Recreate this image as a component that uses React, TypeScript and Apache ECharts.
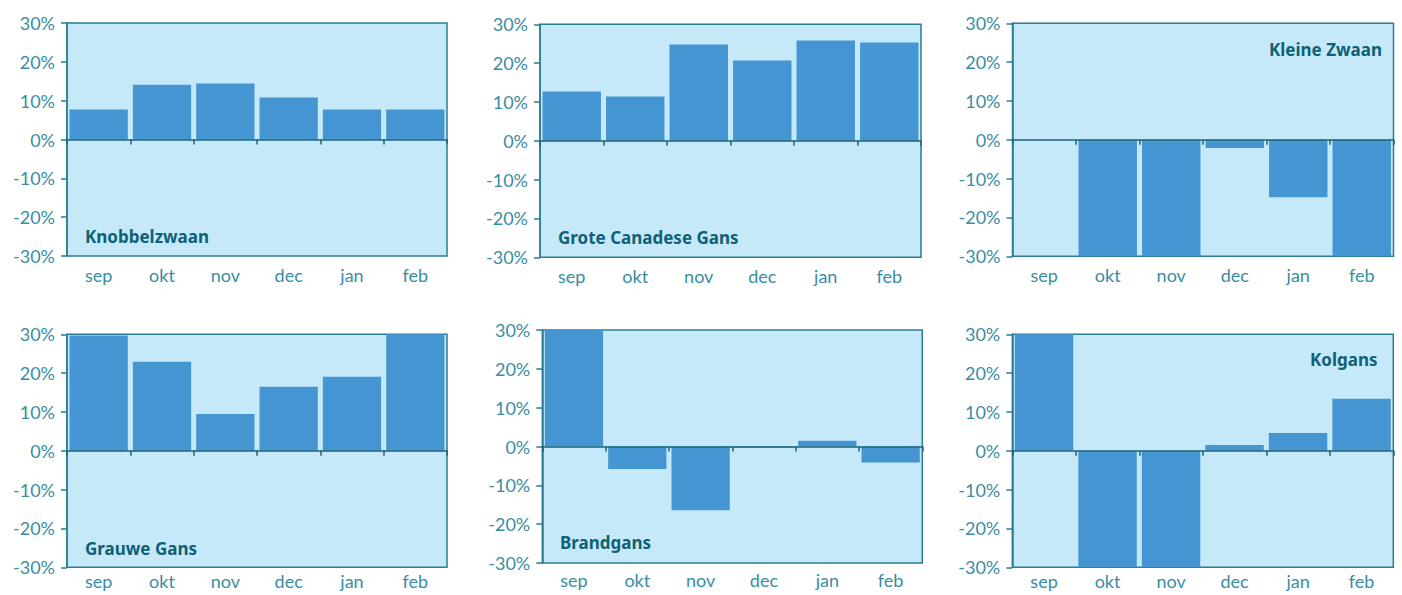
import React, { useEffect, useRef } from "react";
import * as echarts from "echarts";

// ---- Data ----
const months = ["sep", "okt", "nov", "dec", "jan", "feb"];
const yTicks = [-30, -20, -10, 0, 10, 20, 30];

const knobbelzwaan = [7.7, 14.1, 14.4, 10.8, 7.7, 7.7];
const groteCanadeseGans = [12.7, 11.4, 24.8, 20.7, 25.8, 25.3];
const kleineZwaan = [null, -30, -30, -2.1, -14.8, -30];
const grauweGans = [29.7, 22.9, 9.5, 16.5, 19.1, 30];
const brandgans = [30, -5.8, -16.4, -0.3, 1.5, -4.1];
const kolgans = [30, -30, -30, 1.5, 4.6, 13.4];

const speciesNames = [
  "Knobbelzwaan",
  "Grote Canadese Gans",
  "Kleine Zwaan",
  "Grauwe Gans",
  "Brandgans",
  "Kolgans",
];
const speciesData = [knobbelzwaan, groteCanadeseGans, kleineZwaan, grauweGans, brandgans, kolgans];

// ---- Layout (pixels) ----
const layouts = [
  { left: 67, top: 23, width: 380, height: 233, tx: 85, ty: 236, align: "left", lm: 10 },
  { left: 540, top: 24.3, width: 381, height: 233, tx: 558, ty: 237.7, align: "left", lm: 10 },
  { left: 1012.5, top: 23.3, width: 381, height: 233, tx: 1382, ty: 49, align: "right", lm: 10 },
  { left: 67, top: 334.3, width: 380, height: 233, tx: 85, ty: 548.3, align: "left", lm: 5 },
  { left: 542.3, top: 330, width: 380, height: 233, tx: 560, ty: 542.7, align: "left", lm: 8 },
  { left: 1012.3, top: 334.3, width: 381, height: 233, tx: 1377.5, ty: 359.3, align: "right", lm: 5 },
];

const BG = "#c6e9f9";
const BAR = "#4595d2";
const FRAME = "#2a7d93";
const ZERO = "#1d6478";
const LABEL = "#3a8da3";
const TITLE = "#0f6176";
const FONT = "Lato, 'Noto Sans', sans-serif";

export default function App() {
  const ref = useRef<HTMLDivElement>(null);

  useEffect(() => {
    if (!ref.current) return;
    const chart = echarts.init(ref.current, undefined, { renderer: "svg" });

    const grid: any[] = [];
    const xAxis: any[] = [];
    const yAxis: any[] = [];
    const series: any[] = [];
    const graphic: any[] = [];

    layouts.forEach((l, i) => {
      grid.push({
        left: l.left,
        top: l.top,
        width: l.width,
        height: l.height,
        show: true,
        backgroundColor: BG,
        borderColor: FRAME,
        borderWidth: 1.5,
        containLabel: false,
      });
      xAxis.push({
        type: "category",
        gridIndex: i,
        data: months,
        position: "bottom",
        axisLine: { show: false, onZero: false },
        axisTick: { show: false },
        axisLabel: { color: LABEL, fontSize: 18, fontFamily: FONT, margin: l.lm },
        splitLine: { show: false },
      });
      xAxis.push({
        type: "category",
        gridIndex: i,
        data: months,
        position: "top",
        z: 5,
        axisLine: { show: true, onZero: true, lineStyle: { color: ZERO, width: 1.5 } },
        axisTick: { show: true, inside: true, length: 5, lineStyle: { color: ZERO, width: 1.5 } },
        axisLabel: { show: false },
        splitLine: { show: false },
      });
      yAxis.push({
        type: "value",
        gridIndex: i,
        min: yTicks[0],
        max: yTicks[yTicks.length - 1],
        interval: 10,
        axisLine: { show: true, lineStyle: { color: FRAME, width: 1.5 } },
        axisTick: { show: true, length: 6, lineStyle: { color: FRAME, width: 1.5 } },
        splitLine: { show: false },
        axisLabel: {
          formatter: (v: number) => `${v}%`,
          color: LABEL,
          fontSize: 18,
          fontFamily: FONT,
          margin: 12,
        },
      });
      series.push({
        type: "bar",
        name: speciesNames[i],
        xAxisIndex: 2 * i,
        yAxisIndex: i,
        data: speciesData[i],
        barCategoryGap: "8%",
        itemStyle: { color: BAR },
        clip: true,
        z: 2,
      });
      graphic.push({
        type: "text",
        x: l.tx,
        y: l.ty,
        z: 10,
        style: {
          text: speciesNames[i],
          font: `bold 17px 'Noto Sans', sans-serif`,
          fill: TITLE,
          textAlign: l.align,
          textVerticalAlign: "middle",
        },
      });
    });

    chart.setOption({
      animation: false,
      backgroundColor: "#ffffff",
      grid,
      xAxis,
      yAxis,
      series,
      graphic,
    });

    return () => chart.dispose();
  }, []);

  return (
    <div
      ref={ref}
      style={{ position: "absolute", left: 0, top: 0, width: 1402, height: 595 }}
    />
  );
}
